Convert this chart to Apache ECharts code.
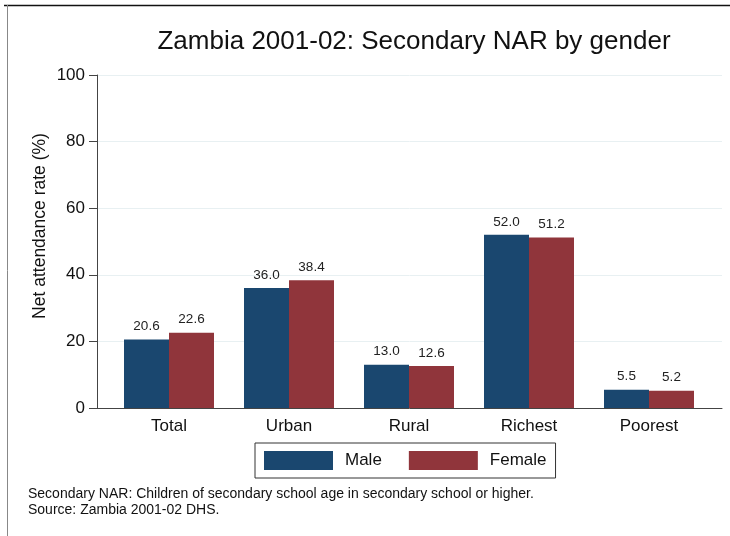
<!DOCTYPE html>
<html>
<head>
<meta charset="utf-8">
<script src="https://cdn.jsdelivr.net/npm/echarts@6/dist/echarts.min.js"></script>
<style>
html, body { margin: 0; padding: 0; background: #fff; }
#main { width: 730px; height: 536px; }
</style>
</head>
<body>
<div id="main"></div>
<script>
// data
const categories = ['Total', 'Urban', 'Rural', 'Richest', 'Poorest'];
const male = [20.6, 36.0, 13.0, 52.0, 5.5];
const female = [22.6, 38.4, 12.6, 51.2, 5.2];
const yTicks = [0, 20, 40, 60, 80, 100];

const FONT = 'Liberation Sans, Arial, sans-serif';
const MALE_COLOR = '#1a476f';
const FEMALE_COLOR = '#90353b';

const chart = echarts.init(document.getElementById('main'));

function barSeries(name, data, color) {
    return {
        name: name,
        type: 'bar',
        xAxisIndex: 1,
        yAxisIndex: 1,
        data: data,
        barWidth: 45,
        barGap: '0%',
        itemStyle: { color: color },
        label: {
            show: true,
            position: 'top',
            distance: 6,
            fontFamily: FONT,
            fontSize: 13.5,
            color: '#222',
            formatter: p => p.value.toFixed(1)
        }
    };
}

chart.setOption({
    backgroundColor: '#fff',
    animation: false,
    title: {
        text: 'Zambia 2001-02: Secondary NAR by gender',
        left: 409,
        textAlign: 'center',
        top: 24,
        textStyle: { fontFamily: FONT, fontSize: 26, fontWeight: 'normal', color: '#111' }
    },
    legend: {
        data: ['Male', 'Female'],
        left: 255,
        top: 443,
        padding: [8, 9, 8, 9],
        itemWidth: 69,
        itemHeight: 19,
        itemGap: 27,
        icon: 'rect',
        borderColor: '#333',
        borderWidth: 1,
        textStyle: { fontFamily: FONT, fontSize: 17, color: '#111', padding: [0, 0, 0, 7] }
    },
    grid: [
        { left: 97, right: 8, top: 75, bottom: 128 },
        { left: 109, right: 21, top: 75, bottom: 128 }
    ],
    xAxis: [
        {
            gridIndex: 0,
            type: 'value',
            min: 0,
            max: 1,
            axisLine: { show: true, onZero: false, lineStyle: { color: '#444', width: 1 } },
            axisTick: { show: false },
            axisLabel: { show: false },
            splitLine: { show: false }
        },
        {
            gridIndex: 1,
            type: 'category',
            data: categories,
            axisLine: { show: false },
            axisTick: { show: false },
            axisLabel: { fontFamily: FONT, fontSize: 17, color: '#111', margin: 10 }
        }
    ],
    yAxis: [
        {
            gridIndex: 0,
            type: 'value',
            min: yTicks[0],
            max: yTicks[yTicks.length - 1],
            interval: 20,
            axisLine: { show: true, lineStyle: { color: '#444', width: 1 } },
            axisTick: { show: true, length: 8, lineStyle: { color: '#444' } },
            axisLabel: { fontFamily: FONT, fontSize: 17, color: '#111', margin: 12 },
            splitLine: { show: true, lineStyle: { color: '#e8f0f2', width: 1 } }
        },
        {
            gridIndex: 1,
            type: 'value',
            min: 0,
            max: 100,
            show: false
        }
    ],
    series: [
        barSeries('Male', male, MALE_COLOR),
        barSeries('Female', female, FEMALE_COLOR)
    ],
    graphic: [
        { type: 'line', shape: { x1: 4, y1: 5.5, x2: 730, y2: 5.5 }, style: { stroke: '#111', lineWidth: 1.5 } },
        { type: 'line', shape: { x1: 7.5, y1: 5, x2: 7.5, y2: 536 }, style: { stroke: '#888', lineWidth: 1 } },
        {
            type: 'text',
            x: 40,
            y: 226,
            rotation: Math.PI / 2,
            style: {
                text: 'Net attendance rate (%)',
                fontFamily: FONT,
                fontSize: 17.5,
                fill: '#111',
                align: 'center',
                verticalAlign: 'middle'
            }
        },
        {
            type: 'text',
            left: 28,
            top: 486,
            style: {
                text: 'Secondary NAR: Children of secondary school age in secondary school or higher.\nSource: Zambia 2001-02 DHS.',
                fontFamily: FONT,
                fontSize: 14,
                lineHeight: 16,
                fill: '#111'
            }
        }
    ]
});
</script>
</body>
</html>
